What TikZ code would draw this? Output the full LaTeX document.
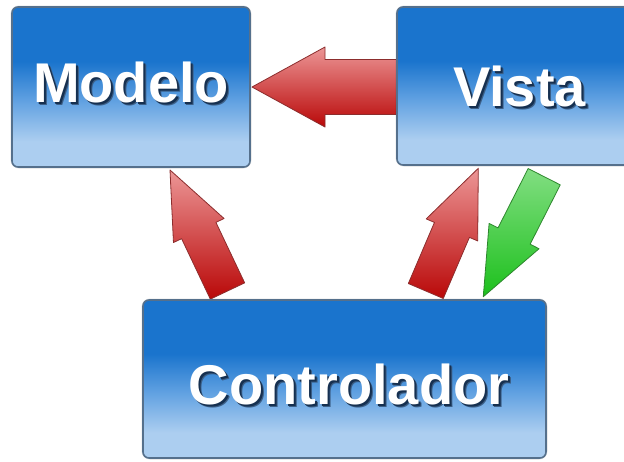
\documentclass[tikz,border=0pt]{standalone}
\usepackage{fontspec}
\newfontfamily\labelfont{Liberation Sans}
\usetikzlibrary{calc}

\definecolor{boxdark}{RGB}{26,116,205}
\definecolor{boxmid}{RGB}{95,160,225}
\definecolor{boxlight}{RGB}{172,206,240}
\definecolor{boxrim}{RGB}{85,112,140}
\definecolor{textshade}{RGB}{22,48,80}
\definecolor{textshadesoft}{RGB}{60,95,135}
\definecolor{redtop}{RGB}{236,150,150}
\definecolor{redbot}{RGB}{185,8,8}
\definecolor{rededge}{RGB}{140,45,45}
\definecolor{greentop}{RGB}{130,222,130}
\definecolor{greenbot}{RGB}{28,192,28}
\definecolor{greenedge}{RGB}{45,135,45}

% vertical blue fade used by the three boxes (0bp = bottom)
\pgfdeclareverticalshading{mvcbox}{100bp}{%
  color(0bp)=(boxlight); color(33bp)=(boxlight); color(46bp)=(boxmid);
  color(58bp)=(boxdark); color(100bp)=(boxdark)}

% block arrow: #1 tail, #2 tip, #3 half shaft, #4 half head, #5 head length, #6 style
\newcommand\blockarrow[6]{%
  \coordinate (ba-neck) at ($(#2)!#5!(#1)$);
  \shade[#6]
    ($(#1)!#3!90:(#2)$) -- ($(ba-neck)!#3!90:(#2)$) -- ($(ba-neck)!#4!90:(#2)$)
    -- (#2)
    -- ($(ba-neck)!#4!-90:(#2)$) -- ($(ba-neck)!#3!-90:(#2)$) -- ($(#1)!#3!-90:(#2)$)
    -- cycle;}

% white lettering with a soft dark drop shadow, all in one box
\newcommand\shadowed[1]{%
  \makebox[0pt][l]{\kern3pt\raisebox{-3pt}{\color{textshadesoft}#1}}%
  \makebox[0pt][l]{\kern2pt\raisebox{-2pt}{\color{textshade}#1}}%
  #1}

\tikzset{
  mvc/.style={rounded corners=6pt, shading=mvcbox, draw=boxrim, line width=1.6pt,
    inner sep=0pt},
  halo/.style={rounded corners=7pt, draw=black, line width=3pt, draw opacity=0.12},
  title/.style={font=\labelfont\bfseries\fontsize{56}{60}\selectfont, text=white,
    anchor=base, inner sep=0pt},
  redarrow/.style={top color=redtop, bottom color=redbot, draw=rededge,
    line width=0.8pt, line join=round},
  greenarrow/.style={top color=greentop, bottom color=greenbot, draw=greenedge,
    line width=0.8pt, line join=round},
}

\begin{document}
\begin{tikzpicture}[x=1pt, y=-1pt]
  \clip (0,0) rectangle (624,461);
  \fill[white] (0,0) rectangle (624,461);

  % arrow end points
  \coordinate (vm-tail) at (402,87);   \coordinate (vm-tip) at (252,87);
  \coordinate (cm-tail) at (227.5,291); \coordinate (cm-tip) at (170,170);
  \coordinate (cv-tail) at (425.8,291); \coordinate (cv-tip) at (478.3,168.3);
  \coordinate (vc-tail) at (544.2,176.7); \coordinate (vc-tip) at (483.3,296.7);

  \blockarrow{vm-tail}{vm-tip}{27.5pt}{40pt}{73pt}{redarrow}
  \blockarrow{cm-tail}{cm-tip}{19pt}{28pt}{67pt}{redarrow}
  \blockarrow{cv-tail}{cv-tip}{19pt}{28pt}{67pt}{redarrow}
  \blockarrow{vc-tail}{vc-tip}{18pt}{28pt}{68pt}{greenarrow}

  % boxes
  \draw[halo] (12,7) rectangle (250,167);
  \node[mvc, minimum width=238pt, minimum height=160pt] (modelo) at (131,87) {};
  \draw[halo] (397,7) rectangle (640,165);
  \node[mvc, minimum width=243pt, minimum height=158pt] (vista) at (518.5,86) {};
  \draw[halo] (143,300) rectangle (546,458);
  \node[mvc, minimum width=403pt, minimum height=158pt] (controlador) at (344.5,379) {};

  % labels
  \node[title] (modelo-t) at (131,102.5) {\shadowed{Modelo}};
  \node[title] (vista-t) at (519.5,106.5) {\shadowed{Vista}};
  \node[title] (controlador-t) at (349,404.5) {\shadowed{Controlador}};
\end{tikzpicture}
\end{document}
